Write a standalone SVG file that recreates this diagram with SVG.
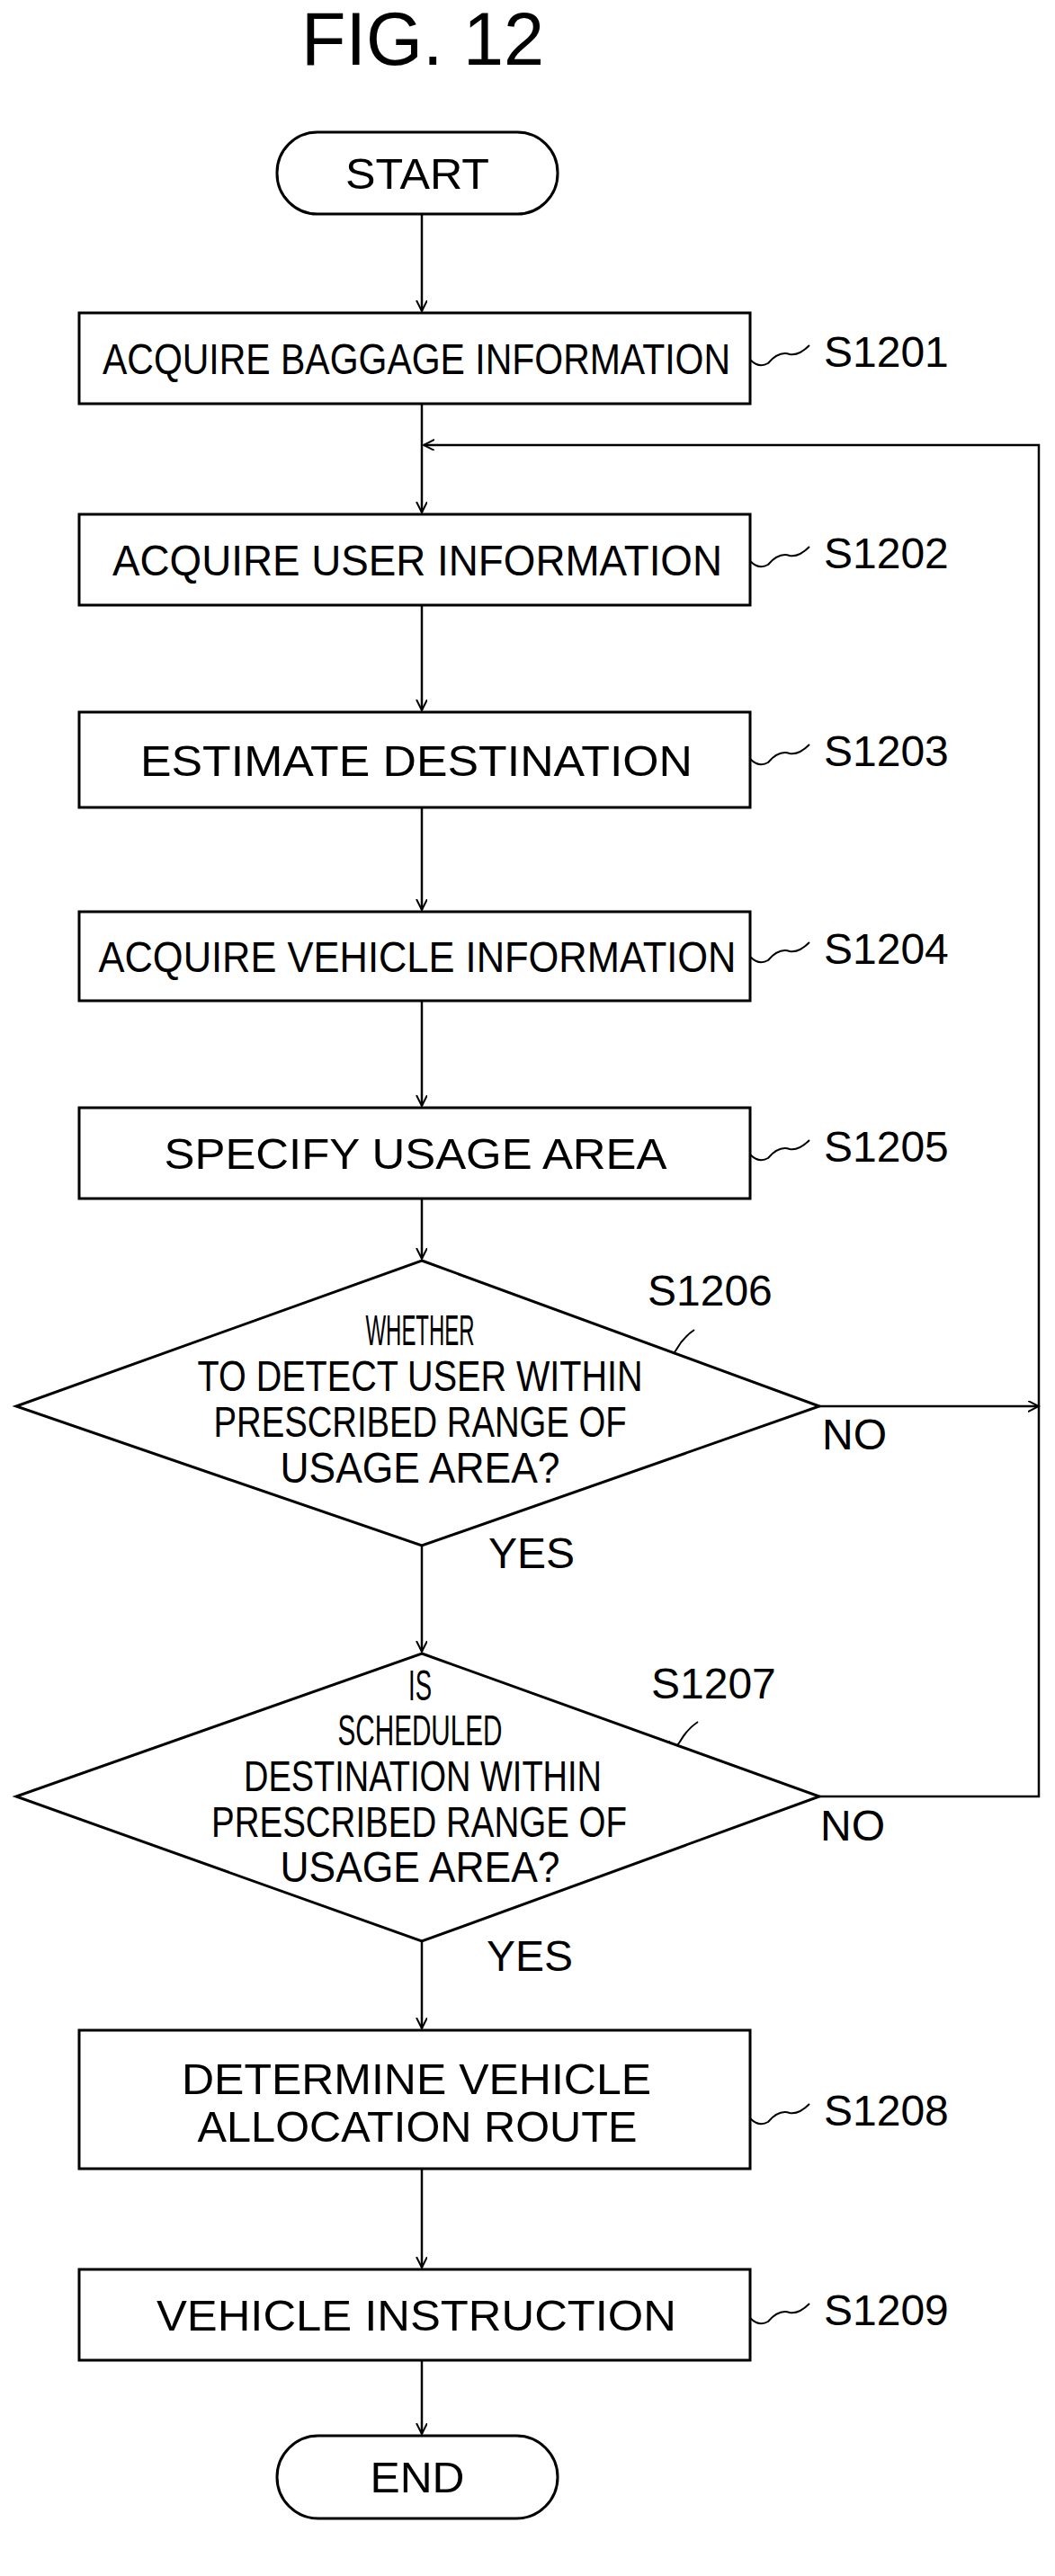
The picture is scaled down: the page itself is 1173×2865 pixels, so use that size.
<svg xmlns="http://www.w3.org/2000/svg" width="1173" height="2865" viewBox="0 0 1173 2865">
<style>
.s{fill:#fff;stroke:#000;stroke-width:3}
.t{font-family:"Liberation Sans",Arial,sans-serif;font-size:48px;fill:#000;text-anchor:middle}
.l{font-family:"Liberation Sans",Arial,sans-serif;font-size:48px;fill:#000}
.c{fill:none;stroke:#000;stroke-width:2.5}
.q{fill:none;stroke:#000;stroke-width:2}
</style>
<defs><marker id="a" markerWidth="14" markerHeight="14" refX="12" refY="6" orient="auto" markerUnits="userSpaceOnUse"><path d="M0,0 L12,6 L0,12" fill="none" stroke="#000" stroke-width="2"/></marker></defs>
<text x="470" y="72" font-family="Liberation Sans,Arial,sans-serif" font-size="84" text-anchor="middle" textLength="270" lengthAdjust="spacingAndGlyphs">FIG. 12</text>
<g id="connectors">
<line class="c" x1="469" y1="238" x2="469" y2="346" marker-end="url(#a)"/>
<line class="c" x1="469" y1="449" x2="469" y2="570" marker-end="url(#a)"/>
<line class="c" x1="469" y1="673" x2="469" y2="790" marker-end="url(#a)"/>
<line class="c" x1="469" y1="898" x2="469" y2="1012" marker-end="url(#a)"/>
<line class="c" x1="469" y1="1113" x2="469" y2="1230" marker-end="url(#a)"/>
<line class="c" x1="469" y1="1333" x2="469" y2="1400" marker-end="url(#a)"/>
<line class="c" x1="469" y1="1719" x2="469" y2="1837" marker-end="url(#a)"/>
<line class="c" x1="469" y1="2159" x2="469" y2="2256" marker-end="url(#a)"/>
<line class="c" x1="469" y1="2412" x2="469" y2="2522" marker-end="url(#a)"/>
<line class="c" x1="469" y1="2625" x2="469" y2="2707" marker-end="url(#a)"/>
<line class="c" x1="911" y1="1564" x2="1155" y2="1564" marker-end="url(#a)"/>
<polyline class="c" points="911,1998 1155,1998 1155,495 471,495" marker-end="url(#a)"/>
<path class="q" d="M834,400 q10,10 20,4 q12,-14 24,-10 q10,2 22,-10"/>
<path class="q" d="M834,624 q10,10 20,4 q12,-14 24,-10 q10,2 22,-10"/>
<path class="q" d="M834,844 q10,10 20,4 q12,-14 24,-10 q10,2 22,-10"/>
<path class="q" d="M834,1064 q10,10 20,4 q12,-14 24,-10 q10,2 22,-10"/>
<path class="q" d="M834,1284 q10,10 20,4 q12,-14 24,-10 q10,2 22,-10"/>
<path class="q" d="M834,2356 q10,10 20,4 q12,-14 24,-10 q10,2 22,-10"/>
<path class="q" d="M834,2578 q10,10 20,4 q12,-14 24,-10 q10,2 22,-10"/>
<path class="q" d="M728,1517 q5,-14 12,-16 q6,10 12,0 q8,-14 20,-22"/>
<path class="q" d="M732,1953 q5,-14 12,-16 q6,10 12,0 q8,-14 20,-22"/>
</g>
<g id="start"><rect class="s" x="308" y="147" width="312" height="91" rx="45"/><text class="t" x="464" y="210" textLength="160" lengthAdjust="spacingAndGlyphs">START</text></g>
<g id="s1201"><rect class="s" x="88" y="348" width="746" height="101"/><text class="t" x="463" y="416" textLength="698" lengthAdjust="spacingAndGlyphs">ACQUIRE BAGGAGE INFORMATION</text><text class="l" x="916" y="408">S1201</text></g>
<g id="s1202"><rect class="s" x="88" y="572" width="746" height="101"/><text class="t" x="464" y="640" textLength="678" lengthAdjust="spacingAndGlyphs">ACQUIRE USER INFORMATION</text><text class="l" x="916" y="632">S1202</text></g>
<g id="s1203"><rect class="s" x="88" y="792" width="746" height="106"/><text class="t" x="463" y="863" textLength="614" lengthAdjust="spacingAndGlyphs">ESTIMATE DESTINATION</text><text class="l" x="916" y="852">S1203</text></g>
<g id="s1204"><rect class="s" x="88" y="1014" width="746" height="99"/><text class="t" x="464" y="1081" textLength="709" lengthAdjust="spacingAndGlyphs">ACQUIRE VEHICLE INFORMATION</text><text class="l" x="916" y="1072">S1204</text></g>
<g id="s1205"><rect class="s" x="88" y="1232" width="746" height="101"/><text class="t" x="462" y="1300" textLength="559" lengthAdjust="spacingAndGlyphs">SPECIFY USAGE AREA</text><text class="l" x="916" y="1292">S1205</text></g>
<g id="s1206"><polygon class="s" points="469,1402 911,1564 469,1719 18,1564"/>
<text class="t" x="467" y="1496" textLength="121" lengthAdjust="spacingAndGlyphs">WHETHER</text>
<text class="t" x="467" y="1547" textLength="495" lengthAdjust="spacingAndGlyphs">TO DETECT USER WITHIN</text>
<text class="t" x="467" y="1598" textLength="459" lengthAdjust="spacingAndGlyphs">PRESCRIBED RANGE OF</text>
<text class="t" x="467" y="1649" textLength="311" lengthAdjust="spacingAndGlyphs">USAGE AREA?</text>
<text class="l" x="720" y="1452">S1206</text>
<text class="l" x="914" y="1612">NO</text>
<text class="l" x="543" y="1744">YES</text></g>
<g id="s1207"><polygon class="s" points="469,1839 911,1998 469,2159 18,1998"/>
<text class="t" x="467" y="1891" textLength="26" lengthAdjust="spacingAndGlyphs">IS</text>
<text class="t" x="467" y="1941" textLength="183" lengthAdjust="spacingAndGlyphs">SCHEDULED</text>
<text class="t" x="470" y="1992" textLength="398" lengthAdjust="spacingAndGlyphs">DESTINATION WITHIN</text>
<text class="t" x="466" y="2043" textLength="462" lengthAdjust="spacingAndGlyphs">PRESCRIBED RANGE OF</text>
<text class="t" x="467" y="2093" textLength="311" lengthAdjust="spacingAndGlyphs">USAGE AREA?</text>
<text class="l" x="724" y="1889">S1207</text>
<text class="l" x="912" y="2047">NO</text>
<text class="l" x="541" y="2192">YES</text></g>
<g id="s1208"><rect class="s" x="88" y="2258" width="746" height="154"/><text class="t" x="463" y="2329" textLength="522" lengthAdjust="spacingAndGlyphs">DETERMINE VEHICLE</text><text class="t" x="464" y="2382" textLength="489" lengthAdjust="spacingAndGlyphs">ALLOCATION ROUTE</text><text class="l" x="916" y="2364">S1208</text></g>
<g id="s1209"><rect class="s" x="88" y="2524" width="746" height="101"/><text class="t" x="463" y="2592" textLength="578" lengthAdjust="spacingAndGlyphs">VEHICLE INSTRUCTION</text><text class="l" x="916" y="2586">S1209</text></g>
<g id="end"><rect class="s" x="308" y="2709" width="312" height="92" rx="46"/><text class="t" x="464" y="2772" textLength="105" lengthAdjust="spacingAndGlyphs">END</text></g>
</svg>
